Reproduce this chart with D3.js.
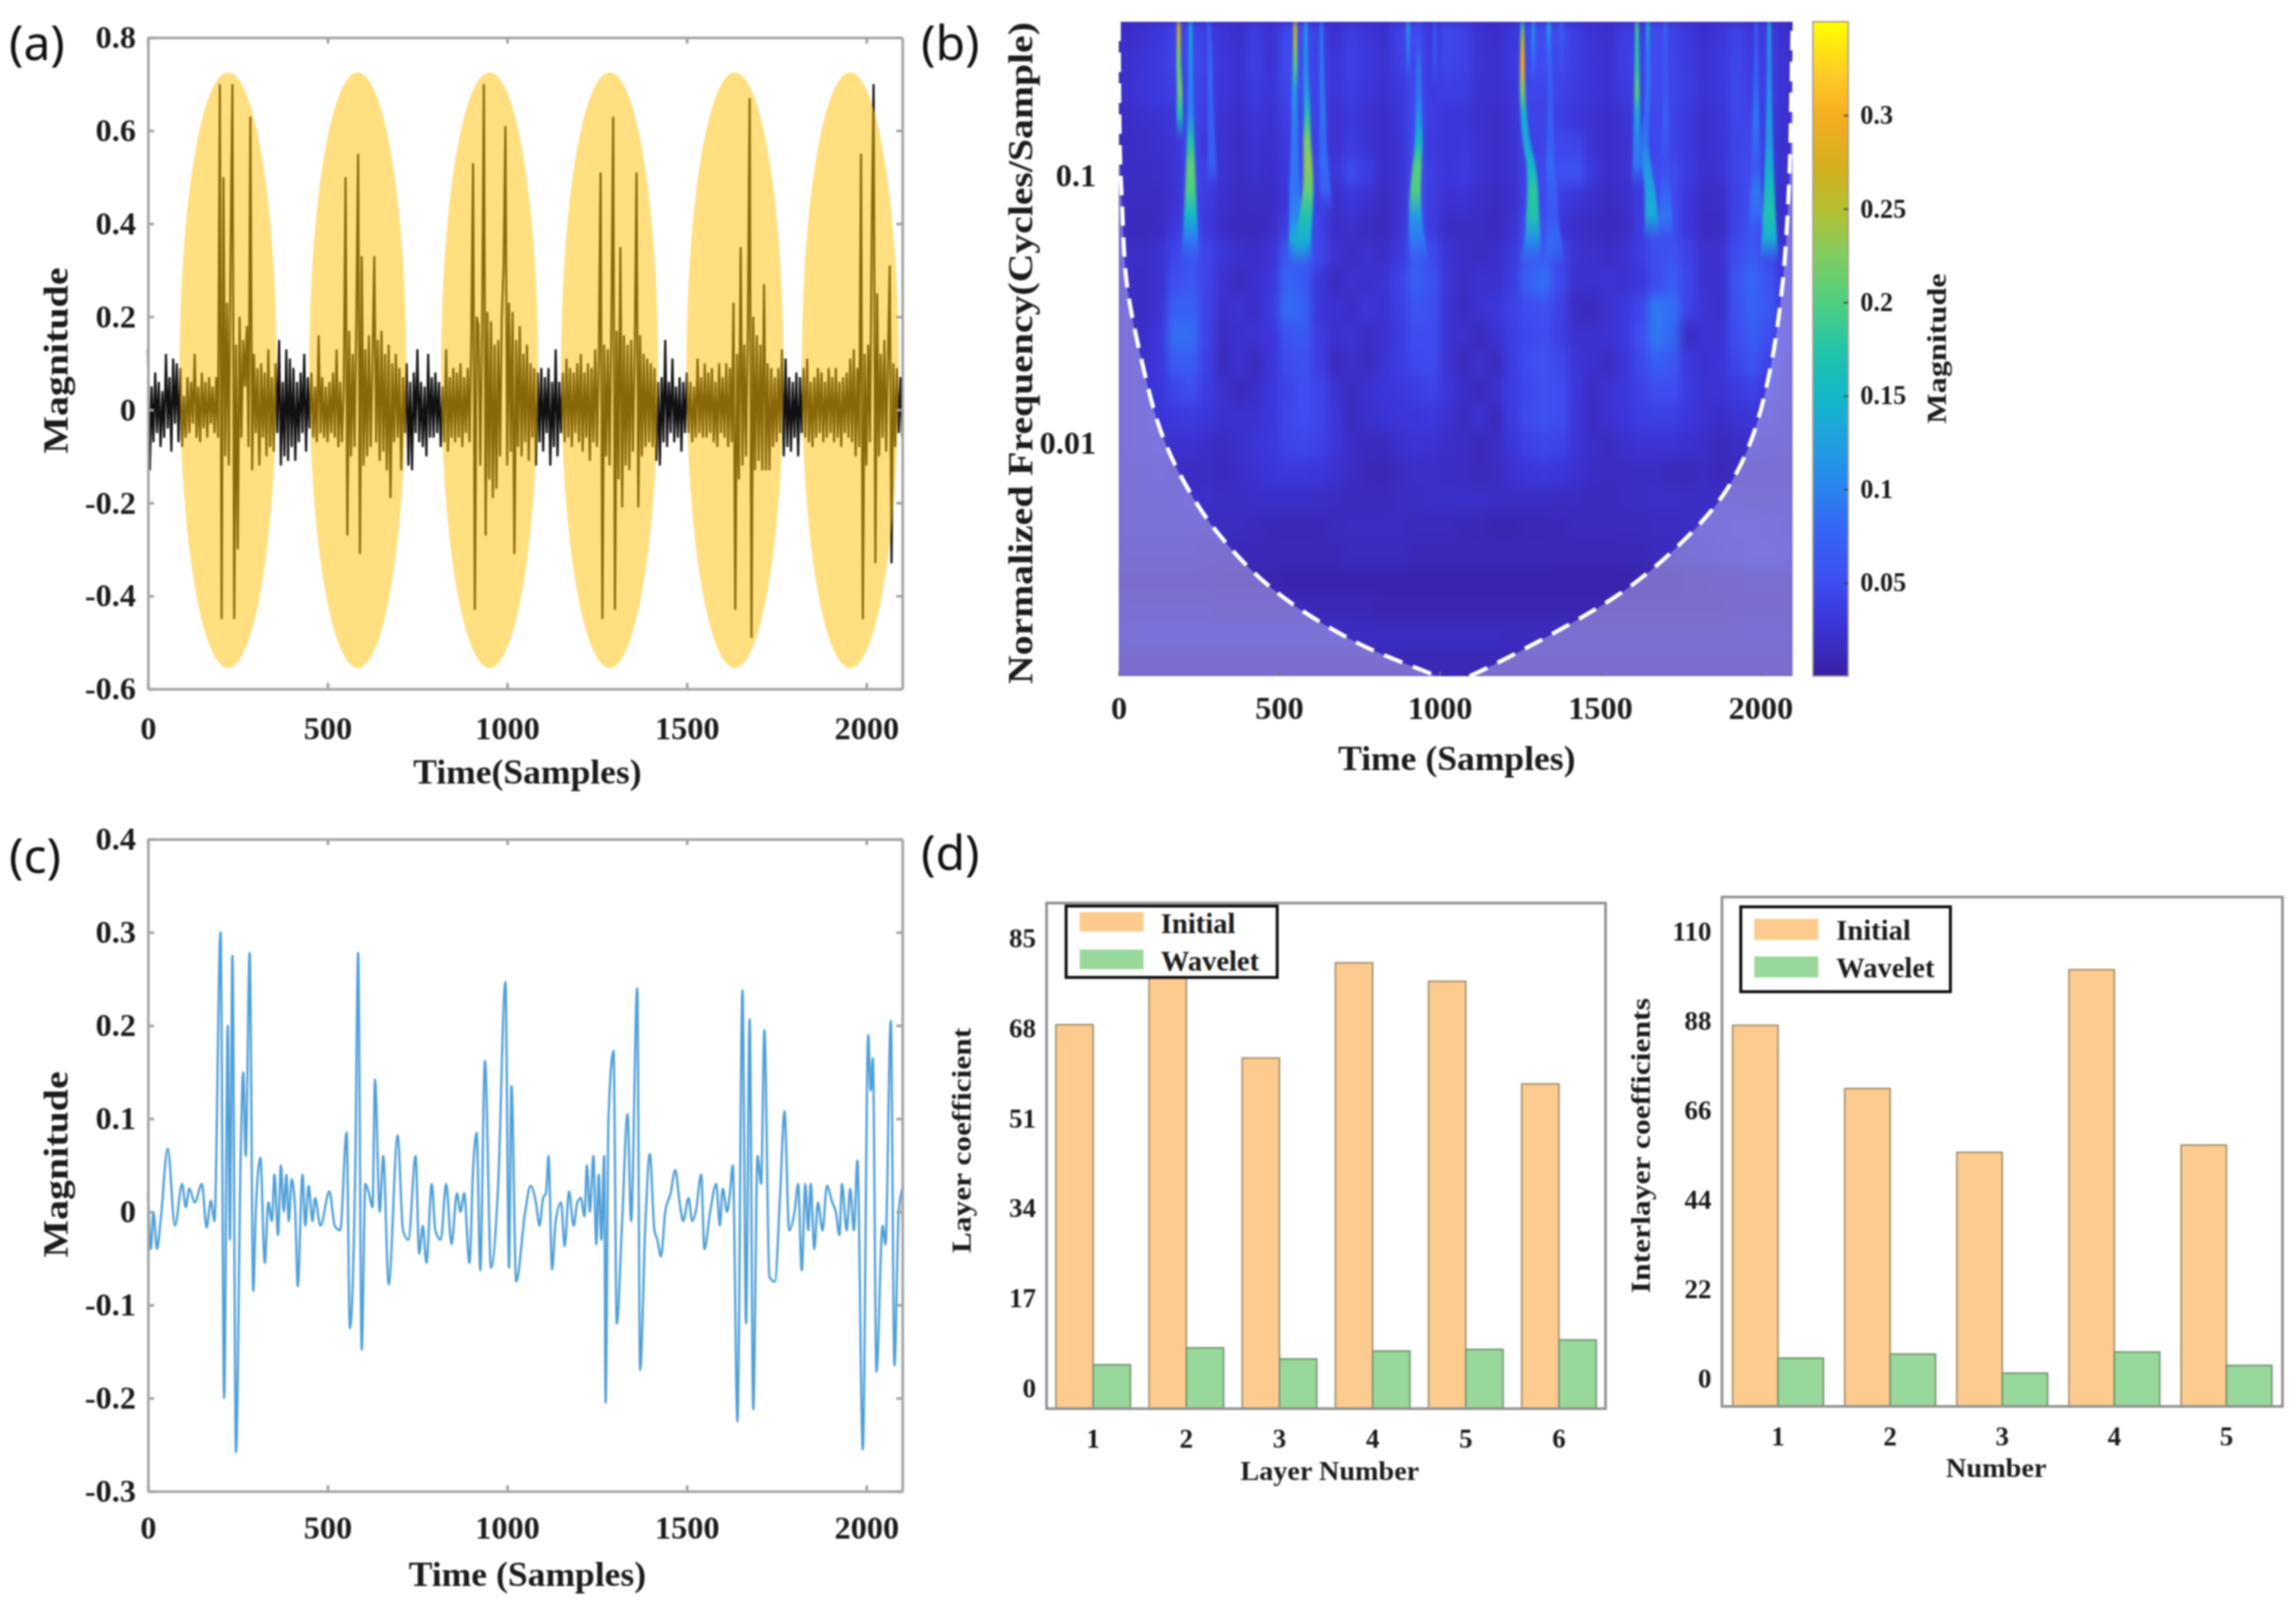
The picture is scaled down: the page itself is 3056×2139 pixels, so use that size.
<!DOCTYPE html>
<html>
<head>
<meta charset="utf-8">
<script src="https://cdn.jsdelivr.net/npm/d3@7"></script>
<style>
  html, body { margin: 0; background: #fff; }
  svg { display: block; filter: blur(1.3px); }
  text { font-family: "Liberation Serif", serif; font-weight: bold; fill: #1c1c1c; }
  .panel-tag { font-family: "Noto Sans", sans-serif; font-weight: normal; font-size: 64px; fill: #111; }
</style>
</head>
<body>
<div class="chart"></div>
<script>
// (a) raw signal, one reading every 5 samples
var rawStep = 5;
var rawSignal = [
  .13,-.13,.05,-.07,.08,-.05,.06,-.08,.04,-.06,.12,-.04,.07,-.09,.11,-.03,.10,-.07,.09,-.08,
  .03,-.06,.07,-.05,.06,-.03,.12,-.06,.05,-.07,.08,-.04,.06,-.06,.07,-.03,.05,-.05,.07,-.06,
  .70,-.45,.50,-.10,.23,-.12,.35,.70,-.45,.14,-.30,.20,-.06,.15,.05,.18,-.08,.63,-.13,.12,
  -.05,.09,-.12,.10,-.06,.08,-.10,.13,-.08,.07,-.09,.10,-.05,.15,-.12,.06,-.10,.13,-.11,.11,
  -.08,.09,-.11,.06,-.07,.08,-.05,.12,-.09,.07,-.04,.08,-.06,.05,-.07,.16,-.05,.07,-.06,.05,
  -.07,.06,-.05,.08,-.06,.13,-.08,.06,-.07,.05,.50,-.27,.17,-.10,.12,-.08,.20,.55,-.31,.33,
  -.12,.13,-.10,.16,-.08,.10,.33,-.07,.15,-.11,.17,-.09,.12,-.13,.14,-.19,.10,-.07,.12,-.06,
  .09,-.13,.07,-.05,.10,-.12,.06,-.13,.08,-.05,.13,-.07,.06,-.08,.05,-.10,.12,-.06,.07,-.06,
  .08,-.05,.06,-.08,.05,-.07,.13,-.09,.07,-.06,.09,-.07,.08,-.06,.10,-.08,.07,-.05,.09,-.07,
  .15,.53,-.43,.20,.18,-.12,.16,.70,-.27,.21,-.15,.19,-.19,.14,-.17,.15,-.10,.20,.31,.61,
  -.12,.23,-.09,.21,-.31,.15,-.08,.18,-.10,.12,-.07,.14,-.11,.10,-.06,.09,-.12,.08,-.07,.09,
  -.09,.07,-.05,.09,-.12,.06,-.08,.13,-.10,.06,-.05,.08,-.07,.11,-.06,.09,-.08,.08,-.05,.10,
  -.07,.12,-.09,.08,-.06,.10,-.11,.09,-.07,.13,-.08,.11,.51,-.45,.14,-.10,.13,-.12,.18,.63,
  -.43,.17,-.15,.35,-.21,.16,-.12,.14,-.13,.15,-.09,.12,.51,-.21,.16,-.10,.12,-.08,.11,-.07,
  .10,-.08,.09,-.11,.06,-.12,.07,-.07,.15,-.08,.06,-.05,.11,-.07,.05,-.06,.07,-.09,.06,-.05,
  .08,-.05,.06,-.07,.05,-.06,.11,-.05,.07,-.06,.10,-.06,.08,-.05,.09,-.07,.06,-.08,.10,-.05,
  .07,-.06,.10,-.08,.09,-.07,.23,-.43,.12,-.15,.35,-.12,.14,-.10,.18,.67,-.49,.20,-.13,.16,
  -.11,.14,-.13,.27,-.13,.10,-.13,.09,-.08,.07,-.07,.09,-.05,.13,-.10,.11,-.08,.07,-.09,.06,
  -.06,.08,-.10,.07,-.05,.09,-.06,.11,-.07,.06,-.08,.07,-.06,.09,-.05,.08,-.07,.06,-.06,.09,
  -.05,.07,-.07,.09,-.06,.06,-.08,.07,-.05,.08,-.06,.11,-.07,.13,-.10,.09,-.08,.55,-.45,.12,
  -.12,.14,-.07,.39,.70,-.33,.25,-.10,.12,-.06,.15,-.09,.11,.31,-.33,.10,-.08,.09,-.05,.07,
  -.06
];
// (a) highlighted bursts
var burstCentres = [223, 584, 951, 1285, 1634, 1955];
var burstHalfWidth = 135;
var burstTop = 0.725;
var burstBottom = -0.555;

// (b) scalogram background, magnitude x 1000, row = frequency band, column = 50 samples
var scaloGrid = [
  [20,24,30,40,46,36,28,22,36,26,46,50,38,24,36,30,22,40,50,30,46,40,24,20,30,46,50,48,36,26,22,36,38,48,42,32,22,30,42,30,36,22],
  [22,28,34,42,46,40,30,24,38,26,48,48,40,28,40,32,24,38,46,34,44,40,26,22,32,46,48,46,38,28,24,38,42,48,42,34,24,32,44,34,38,24],
  [22,30,34,38,44,38,30,24,34,28,44,50,40,28,36,30,24,32,48,34,38,36,24,22,28,44,44,42,34,28,24,34,40,48,44,36,26,32,46,38,38,26],
  [18,22,26,32,44,36,26,20,28,24,38,46,38,24,32,24,20,28,50,36,30,28,22,20,26,42,42,38,30,24,20,26,36,46,42,32,22,28,44,42,34,24],
  [18,20,22,28,42,32,24,18,26,22,34,44,38,24,36,26,20,26,48,34,28,32,24,20,24,40,42,46,44,26,20,24,36,46,42,32,22,28,42,46,32,22],
  [18,18,20,26,46,38,26,18,22,20,32,46,46,28,48,36,20,26,52,38,30,34,26,20,24,42,46,52,56,32,20,24,36,50,48,34,22,26,44,48,32,22],
  [16,16,16,26,48,34,22,16,18,18,30,50,38,22,30,24,16,24,54,36,24,26,20,16,22,44,46,36,30,22,16,20,34,50,48,30,18,20,40,50,28,20],
  [14,14,16,32,52,32,20,14,14,18,38,62,40,20,22,16,14,26,60,34,18,18,18,14,24,50,50,30,20,16,14,18,34,52,50,30,16,18,42,58,32,18],
  [20,20,22,44,56,42,30,22,20,26,62,66,44,24,20,22,20,32,66,46,26,20,18,20,32,62,66,42,26,22,20,24,36,52,56,40,24,24,50,66,44,26],
  [20,18,22,52,62,42,24,16,22,30,76,66,30,16,24,22,26,40,70,58,28,18,24,22,34,74,84,46,22,24,26,24,30,48,68,44,24,24,60,78,58,28],
  [20,18,26,72,72,40,22,26,20,34,82,76,28,24,20,28,24,38,58,52,26,16,26,30,40,50,54,40,16,14,24,32,44,92,84,40,28,22,56,72,62,28],
  [20,20,30,84,84,40,18,22,26,30,58,64,34,22,26,18,24,34,50,50,26,22,14,24,38,46,50,38,24,22,26,32,50,92,78,18,26,26,50,68,50,28],
  [20,22,30,66,68,38,14,24,14,28,48,54,36,14,22,16,26,36,46,48,26,14,24,14,36,50,58,46,28,24,16,30,46,70,62,32,24,28,44,58,40,26],
  [20,22,30,44,50,34,24,14,20,30,42,50,44,26,16,24,28,32,36,42,30,20,14,22,36,46,56,50,30,18,26,30,40,50,50,34,26,26,34,40,30,24],
  [20,22,28,32,34,30,24,22,24,30,46,50,44,30,14,22,26,28,30,32,24,16,24,14,34,48,54,50,30,16,24,30,36,38,38,30,24,20,26,28,24,20],
  [20,22,24,24,24,20,16,22,28,32,42,44,40,30,20,14,14,22,26,24,20,18,12,18,30,40,44,42,28,20,16,22,26,26,26,22,20,14,18,20,18,16],
  [18,18,20,18,16,18,14,20,24,28,32,32,30,24,18,12,10,16,20,20,18,16,14,16,24,30,32,30,24,18,16,16,18,18,14,14,16,12,14,14,14,14],
  [16,16,16,18,20,20,18,18,20,20,20,20,18,16,14,14,14,16,18,20,20,20,20,18,18,18,18,16,16,14,14,16,18,20,20,18,18,18,18,16,16,16],
  [16,16,16,16,16,16,16,16,14,12,10,10,12,14,16,16,16,16,14,14,14,12,10,8,8,10,10,12,14,14,14,14,14,16,16,18,20,22,24,24,22,20],
  [14,14,14,14,14,12,12,12,12,12,12,12,12,12,14,14,14,14,12,12,12,12,12,12,12,12,12,10,10,10,10,12,12,14,14,16,18,20,22,24,24,22],
  [10,10,10,10,10,10,8,8,8,8,6,6,6,6,6,6,6,6,6,6,6,6,6,6,6,6,6,6,6,6,6,6,6,6,6,8,8,10,10,12,12,12],
  [14,14,14,14,14,14,12,12,12,12,12,12,10,10,10,10,8,8,8,8,8,8,8,8,8,8,8,8,8,8,8,8,8,8,8,8,8,8,10,10,10,10],
  [18,18,18,18,18,18,18,18,18,18,18,18,18,18,16,16,16,16,16,16,16,16,16,16,14,14,14,14,14,14,14,14,14,14,14,14,14,14,14,14,14,14],
  [10,10,10,10,10,10,10,10,10,10,10,10,10,10,10,10,10,10,10,10,10,10,10,10,10,10,10,10,10,10,10,10,10,10,10,10,10,10,10,10,10,10]
];
// (b) narrow ridges on top of the grid, read at these frequencies going down
var ridgeFreq = [.375,.321,.258,.209,.169,.135,.109,.0885,.071,.0574,.0464];
var ridgeTimes = [
  [187,187,187,190,190,192],
  [224,224,224,224,224,224,224,224,224,224,222],
  [281,283,285,285,287,289,291,293],
  [550,550,550,548,548,548,548,548,552,555,560],
  [583,583,583,585,587,587,590,590,583,575,572],
  [632,632,632,634,636,636,640,644,650],
  [902,902,902,904],
  [935,935,935,935,935,935,930,925,925,930,945],
  [985,985,985,985],
  [1258,1258,1258,1258,1262,1270,1285,1290,1290,1290,1275],
  [1292,1292,1292,1292],
  [1340,1340,1342,1345,1345,1345,1345,1350,1350,1355,1360],
  [1380,1380,1380,1380],
  [1615,1615,1615,1615,1615,1615,1615,1615],
  [1649,1649,1649,1649,1645,1640,1645,1655,1660,1660],
  [1704,1704,1704,1704,1704,1704,1704,1704,1704,1704],
  [2027,2027,2027,2027,2027,2027,2027,2027,2027,2027,2027],
  [1986,1986,1986,1986,1986,1986,1986,1986,1986,1986]
];
var ridgeMags = [
  [.29,.25,.21,.22,.17,.13],
  [.13,.13,.11,.10,.10,.17,.21,.20,.15,.09,.08],
  [.07,.07,.08,.08,.07,.07,.07,.05],
  [.27,.25,.20,.12,.10,.09,.09,.09,.10,.14,.10],
  [.12,.12,.11,.12,.17,.22,.23,.21,.17,.14,.12],
  [.09,.09,.09,.09,.09,.08,.08,.07,.05],
  [.13,.10,.07,.04],
  [.05,.05,.09,.09,.11,.15,.20,.20,.12,.09,.09],
  [.06,.06,.05,.04],
  [.14,.25,.30,.22,.14,.13,.15,.18,.17,.11,.09],
  [.11,.10,.07,.05],
  [.14,.10,.07,.07,.07,.07,.08,.07,.06,.08,.10],
  [.08,.06,.05,.04],
  [.20,.18,.18,.20,.13,.10,.09,.05],
  [.15,.11,.09,.09,.08,.09,.12,.13,.14,.12],
  [.08,.07,.06,.06,.07,.06,.05,.07,.09,.09],
  [.14,.12,.11,.11,.12,.12,.14,.16,.17,.14,.09],
  [.07,.06,.07,.08,.09,.08,.06,.09,.08,.06]
];
// (b) cone of influence
var coiTime = [0,4,10,25,67,130,203,308,476,727,979,1040,1105,1377,1587,1754,1880,1964,2027,2069,2090,2096,2100];
var coiFreq = [.375,.12,.0803,.0398,.0215,.0112,.0072,.00464,.00288,.00184,.00137,.00128,.00137,.00202,.00288,.00426,.00632,.00976,.0181,.0398,.1,.2,.375];
// colour bar
var magStops = [0,.015,.03,.05,.08,.10,.13,.15,.175,.20,.225,.25,.27,.30,.32,.35];
var magColors = ['#3a1fa2','#3b2cc0','#3c36da','#3f4df0','#3568f5','#2a84f0','#1fa3dd','#12b8c8','#22c4a8','#50cf80','#80cc60','#b5c030','#d0b020','#f5ae20','#ffc828','#ffff00'];
var magTicks = [.05,.1,.15,.2,.25,.3];

// (c) denoised signal, turning points
var cleanTime = [0,8,15,25,35,55,75,95,105,115,130,150,163,175,185,202,212,222,228,235,245,258,265,272,283,293,300,313,325,335,345,352,362,370,378,385,392,400,410,417,430,438,447,458,465,480,505,520,535,553,562,577,585,595,605,615,625,632,645,655,670,695,710,725,745,755,765,775,790,800,815,830,845,860,870,880,895,905,915,925,938,955,975,995,1005,1012,1025,1050,1065,1080,1090,1100,1108,1115,1125,1135,1150,1160,1172,1185,1195,1205,1215,1222,1230,1240,1248,1255,1262,1270,1274,1282,1296,1305,1320,1335,1345,1362,1370,1385,1397,1410,1418,1428,1440,1455,1468,1480,1490,1505,1515,1525,1540,1549,1565,1582,1592,1600,1612,1620,1628,1641,1655,1665,1675,1685,1697,1707,1716,1730,1745,1760,1772,1785,1800,1810,1820,1830,1838,1845,1855,1865,1878,1890,1905,1915,1925,1932,1945,1955,1965,1975,1990,2005,2012,2018,2028,2045,2053,2068,2078,2090,2100];
var cleanValue = [.02,-.04,0,-.04,-.01,.068,-.015,.03,.005,.025,.01,.03,-.017,.012,-.01,.3,-.2,.2,-.03,.275,-.258,.06,.15,.06,.278,-.085,0,.058,-.055,.01,-.01,.04,-.025,.05,0,.04,-.01,.035,0,-.08,.04,-.015,.028,-.01,.015,-.015,.022,-.015,-.02,.085,-.125,.045,.278,-.148,.03,.02,.005,.142,0,.06,-.078,.082,-.02,-.03,.06,-.045,-.015,-.055,.03,-.02,-.03,.03,-.035,.02,0,.02,-.055,.045,.085,-.063,.162,-.06,.03,.247,-.06,.135,-.075,0,.028,.01,-.015,.015,.02,.06,-.062,-.01,.01,-.037,.022,-.015,.01,.015,-.005,.05,0,.06,-.035,.04,-.03,.06,-.205,.1,.173,-.12,-.01,.105,-.01,.24,-.17,-.01,.062,-.02,-.03,-.048,0,.02,.045,.01,-.01,.015,-.01,0,.04,-.04,0,.03,-.015,.025,0,.02,.05,-.225,.238,-.12,.207,-.212,.06,.03,.195,-.07,-.075,.02,.108,-.02,0,.03,-.063,.03,-.02,.03,-.04,.01,-.02,.028,.01,0,-.025,.03,-.02,.025,-.02,.055,-.255,.19,.13,.165,-.172,-.015,-.035,.205,-.165,0,.025];

// (d) bars
var layerNumbers = [1,2,3,4,5,6];
var layerInitial = [68.7,78.5,62.4,80.4,76.9,57.5];
var layerWavelet = [4.4,7.6,5.5,7,7.3,9.1];
var layerTicks = [0,17,34,51,68,85];
var interNumbers = [1,2,3,4,5];
var interInitial = [87,71.4,55.7,100.7,57.5];
var interWavelet = [5,6,1.3,6.5,3.2];
var interTicks = [0,22,44,66,88,110];

var svg = d3.select('.chart').append('svg').attr('width', 3056).attr('height', 2139);
var defs = svg.append('defs');
var frameGray = '#a2a2a2';

function tag(label, x, y) {
    svg.append('text').attr('class', 'panel-tag').attr('x', x).attr('y', y).text(label);
}

// text squeezed to the width it has in the picture
function title(label, cx, cy, len, size, rotate) {
    svg.append('text')
        .attr('transform', `translate(${cx},${cy}) rotate(${rotate ? -90 : 0})`)
        .attr('text-anchor', 'middle')
        .attr('textLength', len)
        .attr('lengthAdjust', 'spacingAndGlyphs')
        .style('font-size', size + 'px')
        .text(label);
}

// box with inward ticks on all four sides, like a matlab axes
function box(g, x, y, xTicks, yTicks, xPad) {
    var fmt = d => String(d);
    var left = x.range()[0], right = x.range()[1];
    var bottom = y.range()[0], top = y.range()[1];
    var parts = [
        [d3.axisBottom(x).tickValues(xTicks).tickSize(-8).tickFormat(fmt).tickPadding(xPad), `translate(0,${bottom})`],
        [d3.axisTop(x).tickValues(xTicks).tickSize(-8).tickFormat(''), `translate(0,${top})`],
        [d3.axisLeft(y).tickValues(yTicks).tickSize(-8).tickFormat(fmt).tickPadding(16), `translate(${left},0)`],
        [d3.axisRight(y).tickValues(yTicks).tickSize(-8).tickFormat(''), `translate(${right},0)`]
    ];
    parts.forEach(p => {
        var a = g.append('g').attr('transform', p[1]).call(p[0].tickSizeOuter(0));
        a.selectAll('path,line').attr('stroke', frameGray).attr('stroke-width', 3.5);
        a.selectAll('text').style('font-size', '43px').attr('fill', '#1c1c1c');
    });
}

// ---- (a)
var xA = d3.scaleLinear().domain([0, 2100]).range([197, 1201]);
var yA = d3.scaleLinear().domain([-0.6, 0.8]).range([917, 50]);
var gA = svg.append('g');
gA.append('path')
    .datum(rawSignal)
    .attr('fill', 'none').attr('stroke', '#111').attr('stroke-width', 2.8)
    .attr('d', d3.line().x((d, i) => xA(i * rawStep)).y(d => yA(d)));
gA.selectAll('ellipse').data(burstCentres).enter().append('ellipse')
    .attr('cx', d => xA(d))
    .attr('cy', yA((burstTop + burstBottom) / 2))
    .attr('rx', d => xA(d + burstHalfWidth) - xA(d))
    .attr('ry', (yA(burstBottom) - yA(burstTop)) / 2)
    .attr('fill', '#ffc000').attr('fill-opacity', 0.5);
box(gA, xA, yA, [0,500,1000,1500,2000], [-.6,-.4,-.2,0,.2,.4,.6,.8], 36);
tag('(a)', 12, 80);
title('Magnitude', 90, 480, 248, 46, true);
title('Time(Samples)', 702, 1043, 304, 46);

// ---- (b)
var xB = d3.scaleLinear().domain([0, 2100]).range([1489, 2386]);
var yB = d3.scaleLog().domain([0.00135, 0.375]).range([900, 29]);
var magColor = d3.scaleLinear().domain(magStops).range(magColors);
var clipB = defs.append('clipPath').attr('id', 'clipB');
clipB.append('rect').attr('x', 1489).attr('y', 29).attr('width', 897).attr('height', 871);

var soft = defs.append('filter').attr('id', 'soft')
    .attr('x', '-5%').attr('y', '-5%').attr('width', '110%').attr('height', '110%')
    .attr('color-interpolation-filters', 'sRGB');
soft.append('feGaussianBlur').attr('stdDeviation', '6 9');
var softer = defs.append('filter').attr('id', 'softer')
    .attr('x', '-5%').attr('y', '-5%').attr('width', '110%').attr('height', '110%')
    .attr('color-interpolation-filters', 'sRGB');
softer.append('feGaussianBlur').attr('stdDeviation', '1.8 4');

var gB = svg.append('g').attr('clip-path', 'url(#clipB)');
var colBand = d3.scaleBand().domain(d3.range(scaloGrid[0].length)).range(xB.range());
var rowBand = d3.scaleBand().domain(d3.range(scaloGrid.length)).range([29, 900]);
var cellsB = gB.append('g').attr('filter', 'url(#soft)');
cellsB.append('rect').attr('x', 1440).attr('y', 0).attr('width', 1000).attr('height', 960).attr('fill', magColor(0.012));
scaloGrid.forEach((row, r) => {
    cellsB.selectAll('rect.r' + r).data(row).enter().append('rect')
        .attr('class', 'r' + r)
        .attr('x', (d, c) => colBand(c))
        .attr('y', rowBand(r))
        .attr('width', colBand.bandwidth() + 1)
        .attr('height', rowBand.bandwidth() + 1)
        .attr('fill', d => magColor(d / 1000));
});

var ridgeG = gB.append('g').attr('filter', 'url(#softer)');
ridgeTimes.forEach((times, k) => {
    var pts = times.map((t, i) => ({ t: t, f: ridgeFreq[i], m: ridgeMags[k][i] }));
    var id = 'ridge' + k;
    var y0 = yB(pts[0].f), y1 = yB(pts[pts.length - 1].f);
    var grad = defs.append('linearGradient').attr('id', id)
        .attr('gradientUnits', 'userSpaceOnUse')
        .attr('x1', 0).attr('x2', 0).attr('y1', y0).attr('y2', y1);
    pts.forEach((p, i) => {
        grad.append('stop')
            .attr('offset', (yB(p.f) - y0) / (y1 - y0))
            .attr('stop-color', magColor(p.m))
            // ridges die out into the background at their low end
            .attr('stop-opacity', i === pts.length - 1 ? 0 : 1);
    });
    // the wavelet gets wider in time as frequency drops
    var half = f => 2 + 1.3 / f;
    ridgeG.append('path').datum(pts)
        .attr('fill', `url(#${id})`)
        .attr('d', d3.area()
            .y(p => yB(p.f))
            .x0(p => xB(p.t - half(p.f)))
            .x1(p => xB(p.t + half(p.f)))
            .curve(d3.curveMonotoneY));
});

var coi = coiTime.map((t, i) => ({ t: t, f: coiFreq[i] }));
gB.append('path').datum(coi)
    .attr('fill', '#fff').attr('fill-opacity', 0.33)
    .attr('d', d3.area().x(d => xB(d.t)).y0(900).y1(d => yB(d.f)).curve(d3.curveCatmullRom));
gB.append('path').datum(coi)
    .attr('fill', 'none').attr('stroke', '#fff').attr('stroke-width', 5.5)
    .attr('stroke-dasharray', '26 15')
    .attr('d', d3.line().x(d => xB(d.t)).y(d => yB(d.f)).curve(d3.curveCatmullRom));

var axB = svg.append('g');
var axBx = axB.append('g').attr('transform', 'translate(0,900)')
    .call(d3.axisBottom(xB).tickValues([0,500,1000,1500,2000]).tickFormat(String).tickSize(-6).tickPadding(26).tickSizeOuter(0));
var axBy = axB.append('g').attr('transform', 'translate(1489,0)')
    .call(d3.axisLeft(yB).tickValues([.1,.01]).tickFormat(String).tickSize(0).tickPadding(30));
axB.selectAll('path').attr('stroke', 'none');
axB.selectAll('line').attr('stroke', '#777').attr('stroke-width', 2);
axB.selectAll('text').style('font-size', '43px').attr('fill', '#1c1c1c');

// colour bar
var barScale = d3.scaleLinear().domain([0, 0.35]).range([900, 29]);
var barGrad = defs.append('linearGradient').attr('id', 'barGrad')
    .attr('gradientUnits', 'userSpaceOnUse').attr('x1', 0).attr('x2', 0).attr('y1', 900).attr('y2', 29);
magStops.forEach((m, i) => barGrad.append('stop').attr('offset', m / 0.35).attr('stop-color', magColors[i]));
svg.append('rect').attr('x', 2413).attr('y', 29).attr('width', 47).attr('height', 871)
    .attr('fill', 'url(#barGrad)').attr('stroke', '#a8a090').attr('stroke-width', 2);
var axBar = svg.append('g').attr('transform', 'translate(2460,0)')
    .call(d3.axisRight(barScale).tickValues(magTicks).tickFormat(String).tickSize(-6).tickPadding(16).tickSizeOuter(0));
axBar.select('path').attr('stroke', 'none');
axBar.selectAll('line').attr('stroke', '#444').attr('stroke-width', 2);
axBar.selectAll('text').style('font-size', '35px').attr('fill', '#1c1c1c');
tag('(b)', 1226, 80);
title('Normalized Frequency(Cycles/Sample)', 1374, 470, 881, 46, true);
title('Time (Samples)', 1939, 1025, 316, 46);
title('Magnitude', 2590, 464, 200, 36, true);

// ---- (c)
var xC = d3.scaleLinear().domain([0, 2100]).range([197, 1201]);
var yC = d3.scaleLinear().domain([-0.3, 0.4]).range([1985, 1117]);
var gC = svg.append('g');
gC.append('path')
    .datum(cleanTime.map((t, i) => [t, cleanValue[i]]))
    .attr('fill', 'none').attr('stroke', '#4f9fd8').attr('stroke-width', 3)
    .attr('d', d3.line().x(d => xC(d[0])).y(d => yC(d[1])).curve(d3.curveMonotoneX));
box(gC, xC, yC, [0,500,1000,1500,2000], [-.3,-.2,-.1,0,.1,.2,.3,.4], 32);
tag('(c)', 12, 1162);
title('Magnitude', 90, 1550, 248, 46, true);
title('Time (Samples)', 702, 2111, 316, 46);

// ---- (d)
function bars(cats, initial, wavelet, ticks, xRange, yRange, yDomain, pad) {
    var g = svg.append('g');
    var x0 = d3.scaleBand().domain(cats).range(xRange).paddingInner(pad).paddingOuter(pad / 2);
    var x1 = d3.scaleBand().domain(['initial', 'wavelet']).range([0, x0.bandwidth()]);
    var y = d3.scaleLinear().domain(yDomain).range(yRange);
    [['initial', initial, '#fdcb8e', '#9c8c68'], ['wavelet', wavelet, '#98d89a', '#6d8f6d']].forEach(s => {
        g.selectAll('rect.' + s[0]).data(s[1]).enter().append('rect')
            .attr('class', s[0])
            .attr('x', (d, i) => x0(cats[i]) + x1(s[0]))
            .attr('y', d => y(d))
            .attr('width', x1.bandwidth())
            .attr('height', d => yRange[0] - y(d))
            .attr('fill', s[2]).attr('stroke', s[3]).attr('stroke-width', 2);
    });
    g.append('rect')
        .attr('x', xRange[0]).attr('y', yRange[1])
        .attr('width', xRange[1] - xRange[0]).attr('height', yRange[0] - yRange[1])
        .attr('fill', 'none').attr('stroke', '#8f8f8f').attr('stroke-width', 3.5);
    g.append('g').attr('transform', `translate(0,${yRange[0]})`)
        .call(d3.axisBottom(x0).tickSize(0).tickPadding(26))
        .call(a => a.select('path').remove())
        .selectAll('text').style('font-size', '36px').attr('fill', '#1c1c1c');
    g.append('g').attr('transform', `translate(${xRange[0]},0)`)
        .call(d3.axisLeft(y).tickValues(ticks).tickSize(0).tickPadding(14))
        .call(a => a.select('path').remove())
        .selectAll('text').style('font-size', '36px').attr('fill', '#1c1c1c');
}

function legend(x, y, w, h, swX, swW, swH, sw1, sw2, txtX, txt1, txt2) {
    var g = svg.append('g');
    g.append('rect').attr('x', x).attr('y', y).attr('width', w).attr('height', h)
        .attr('fill', '#fff').attr('stroke', '#111').attr('stroke-width', 4);
    [[sw1, '#fdcb8e', txt1, 'Initial'], [sw2, '#98d89a', txt2, 'Wavelet']].forEach(r => {
        g.append('rect').attr('x', swX).attr('y', r[0]).attr('width', swW).attr('height', swH).attr('fill', r[1]);
        g.append('text').attr('x', txtX).attr('y', r[2]).attr('dy', '.35em').style('font-size', '38px').text(r[3]);
    });
}

bars(layerNumbers, layerInitial, layerWavelet, layerTicks, [1393, 2137], [1875, 1202], [-3.9, 91.7], 0.2);
legend(1419, 1206, 281, 95, 1437, 85, 26, 1214, 1264, 1545, 1229, 1279);
bars(interNumbers, interInitial, interWavelet, interTicks, [2292, 3038], [1872, 1194], [-6.9, 118.6], 0.19);
legend(2317, 1207, 279, 113, 2335, 85, 28, 1223, 1273, 2444, 1238, 1288);
tag('(d)', 1226, 1158);
title('Layer coefficient', 1292, 1518, 300, 36, true);
title('Interlayer coefficients', 2196, 1525, 393, 36, true);
title('Layer Number', 1770, 1970, 238, 36);
title('Number', 2657, 1966, 134, 36);
</script>
</body>
</html>
